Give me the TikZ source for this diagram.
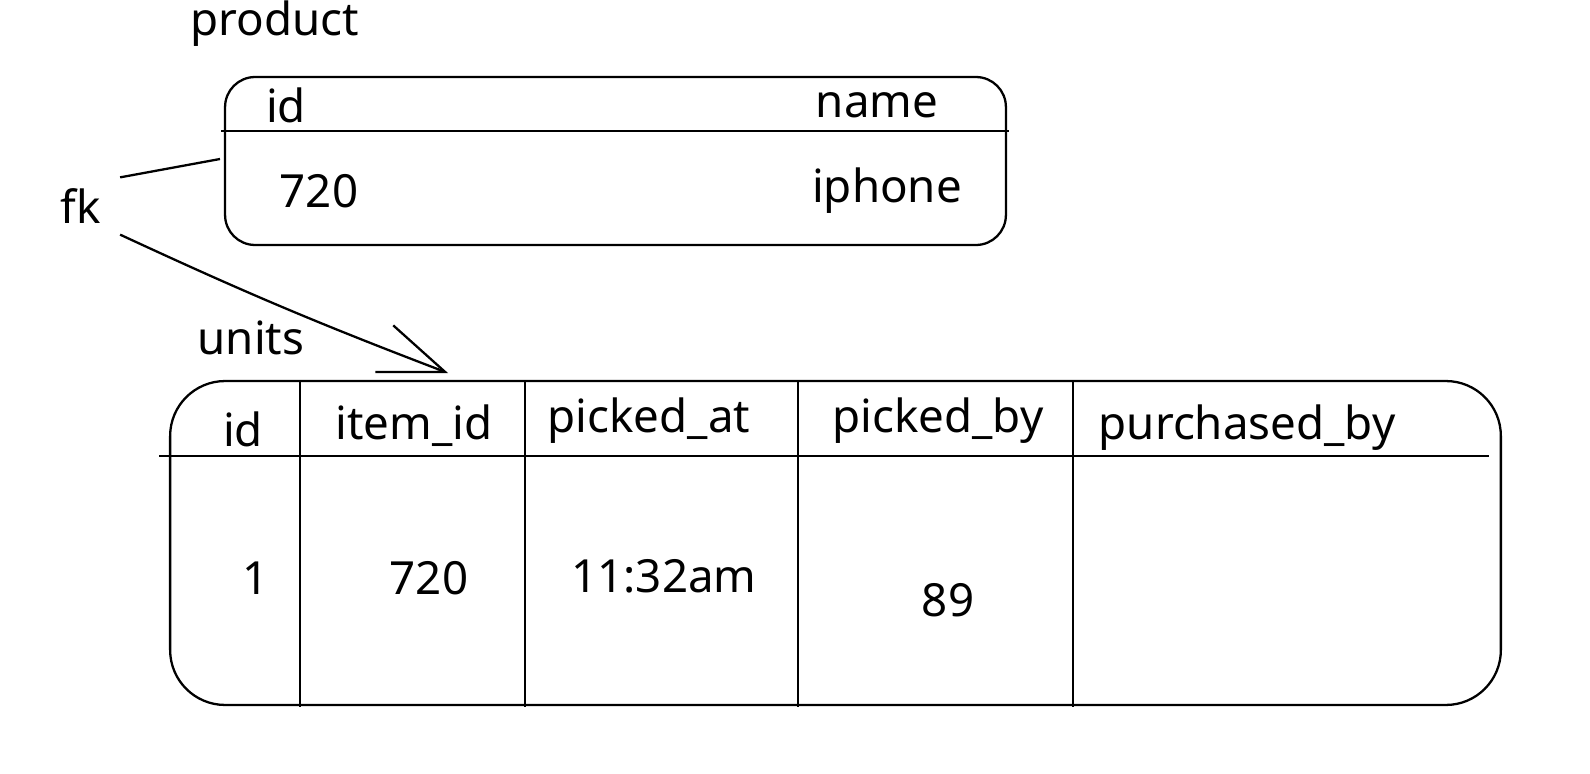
\documentclass[tikz,border=0pt]{standalone}
\usepackage{fontspec}
\setmainfont{Noto Sans}
\usetikzlibrary{arrows.meta}

\begin{document}
\begin{tikzpicture}[x=0.02cm, y=-0.02cm, line width=1.3pt,
  txt/.style={font=\fontsize{26}{30}\selectfont, inner sep=0pt, anchor=center},
  tbl/.style={draw, rectangle, inner sep=0pt},
  fkarrow/.style={-{Straight Barb[length=1.3cm, width=1cm]}}]

  \useasboundingbox (0,0) rectangle (1590,774);

  \node[txt] (ptitle) at (275,24)  {product};
  \node[tbl, minimum width=15.62cm, minimum height=3.36cm,
        rounded corners=0.6cm] (product) at (615.5,161) {};
  \node[txt] (pid)    at (286,105) {id};
  \node[txt] (pname)  at (877,105) {name};
  \node[txt] (pval)   at (319,191) {720};
  \node[txt] (pnval)  at (887,191) {iphone};

  \node[txt, minimum width=1.52cm, minimum height=1.1cm] (fk) at (81,206) {fk};
  \coordinate (pk) at (220,159);
  \coordinate (fktip) at (448,373);

  \node[txt] (utitle) at (251,338) {units};
  \node[tbl, minimum width=26.62cm, minimum height=6.48cm,
        rounded corners=1.1cm] (units) at (835.5,543) {};
  \node[txt] (uid)    at (243,429) {id};
  \node[txt] (uitem)  at (414,426) {item\_id};
  \node[txt] (upat)   at (649,421) {picked\_at};
  \node[txt] (upby)   at (938,421) {picked\_by};
  \node[txt] (upurch) at (1247,428) {purchased\_by};
  \node[txt] (vid)    at (256,578) {1};
  \node[txt] (vitem)  at (429,578) {720};
  \node[txt] (vpat)   at (664,576) {11:32am};
  \node[txt] (vpby)   at (948,600) {89};

  \draw (221,131) -- (1009,131);
  \draw (159,456) -- (1489,456);
  \foreach \x in {300,525,798,1073}
    \draw (\x,382) -- (\x,707);

  \draw (fk.north east) -- (pk);
  \draw[fkarrow] (fk.south east) to[bend right=2] (fktip);

\end{tikzpicture}
\end{document}
